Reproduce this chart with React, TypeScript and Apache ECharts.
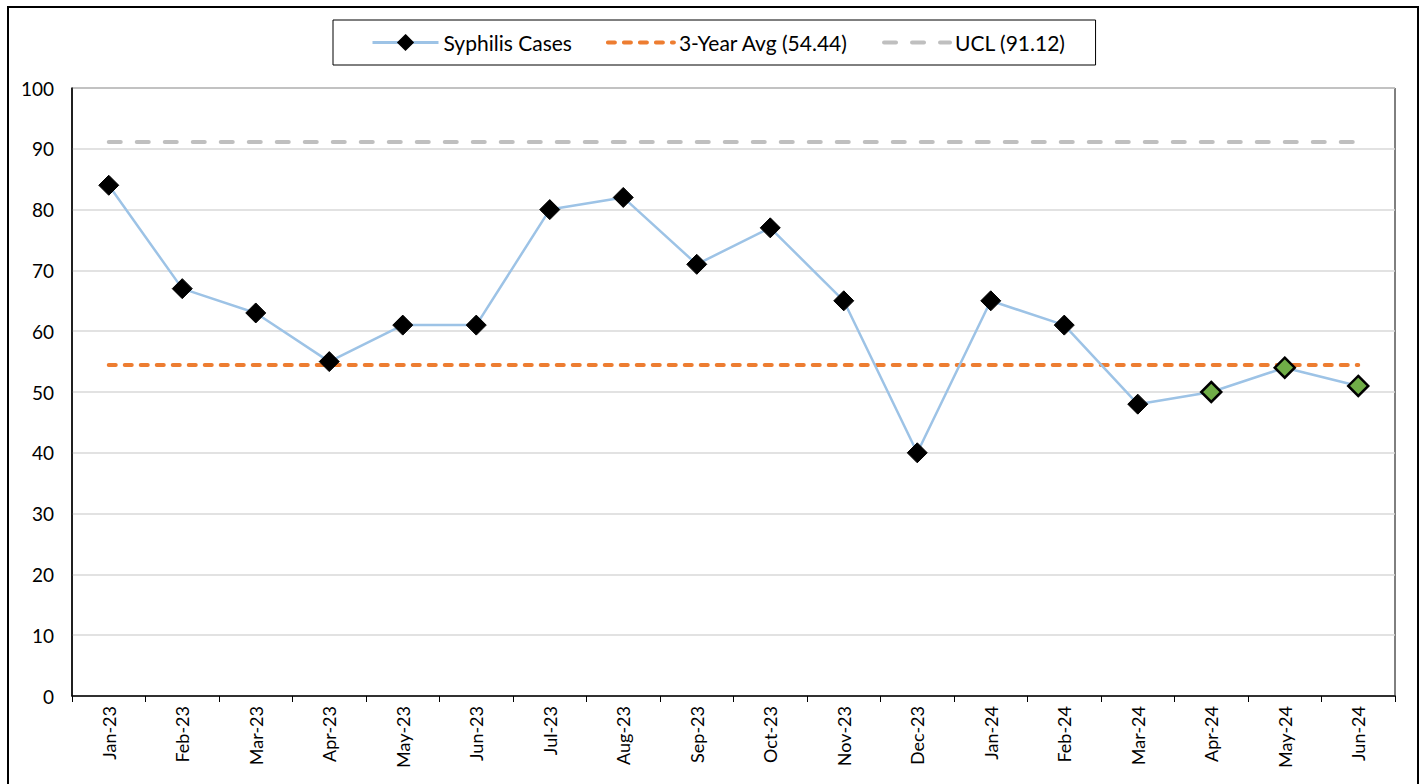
import React, { useEffect, useRef } from "react";
import * as echarts from "echarts";

const categories = ["Jan-23","Feb-23","Mar-23","Apr-23","May-23","Jun-23","Jul-23","Aug-23","Sep-23","Oct-23","Nov-23","Dec-23","Jan-24","Feb-24","Mar-24","Apr-24","May-24","Jun-24"];
const cases = [84, 67, 63, 55, 61, 61, 80, 82, 71, 77, 65, 40, 65, 61, 48, 50, 54, 51];
const greenFrom = 15;
const avgValue = 54.44;
const uclValue = 91.12;

export default function App() {
  const ref = useRef<HTMLDivElement>(null);
  useEffect(() => {
    const chart = echarts.init(ref.current!, null, { renderer: "svg" });
    const font = "Lato, 'Open Sans', sans-serif";
    chart.setOption({
      animation: false,
      textStyle: { fontFamily: font },
      graphic: [
        { type: "rect", shape: { x: 8, y: 7, width: 1410, height: 820 }, style: { fill: "none", stroke: "#000", lineWidth: 2 } },
      ],
      legend: {
        top: 20,
        left: 333,
        borderColor: "#000",
        borderWidth: 1,
        padding: [12, 30, 12, 38],
        itemGap: 34,
        itemWidth: 66,
        itemHeight: 18,
        textStyle: { fontSize: 21, color: "#000", fontFamily: font },
        data: [
          { name: "Syphilis Cases", lineStyle: { width: 3 } },
          { name: "3-Year Avg (54.44)", itemStyle: { opacity: 0 }, lineStyle: { width: 4 } },
          { name: "UCL (91.12)", itemStyle: { opacity: 0 }, lineStyle: { width: 4 } },
        ],
      },
      grid: { left: 72, right: 26, top: 88, bottom: 88, show: true, borderColor: "#000", borderWidth: 1 },
      xAxis: {
        type: "category",
        data: categories,
        boundaryGap: true,
        axisLine: { lineStyle: { color: "#000", width: 1.5 } },
        axisTick: { show: true, alignWithLabel: false, length: 6, lineStyle: { color: "#000" } },
        axisLabel: { rotate: 90, fontSize: 18, color: "#000", margin: 10, fontFamily: font },
      },
      yAxis: {
        type: "value",
        min: 0,
        max: 100,
        interval: 10,
        axisLine: { show: true, lineStyle: { color: "#000", width: 1.5 } },
        axisTick: { show: false },
        splitLine: { lineStyle: { color: "#d9d9d9", width: 1.5 } },
        axisLabel: { fontSize: 19, color: "#000", margin: 18, fontFamily: font },
      },
      series: [
        {
          name: "UCL (91.12)",
          type: "line",
          data: categories.map(() => uclValue),
          symbol: "none",
          itemStyle: { color: "#bfbfbf" },
          lineStyle: { color: "#bfbfbf", width: 4, type: [12, 16], cap: "round" },
          z: 1,
        },
        {
          name: "3-Year Avg (54.44)",
          type: "line",
          data: categories.map(() => avgValue),
          symbol: "none",
          itemStyle: { color: "#ed7d31" },
          lineStyle: { color: "#ed7d31", width: 4, type: [7, 9], cap: "round" },
          z: 2,
        },
        {
          name: "Syphilis Cases",
          type: "line",
          data: cases.map((v, i) =>
            i >= greenFrom
              ? { value: v, itemStyle: { color: "#70ad47", borderColor: "#000", borderWidth: 2.5 } }
              : v
          ),
          symbol: "diamond",
          symbolSize: 20,
          itemStyle: { color: "#000", borderColor: "#000", borderWidth: 1 },
          lineStyle: { color: "#9dc3e6", width: 2.5 },
          z: 3,
        },
      ],
    });
    return () => chart.dispose();
  }, []);
  return <div ref={ref} style={{ position: "absolute", left: 0, top: 0, width: 1421, height: 784 }} />;
}
